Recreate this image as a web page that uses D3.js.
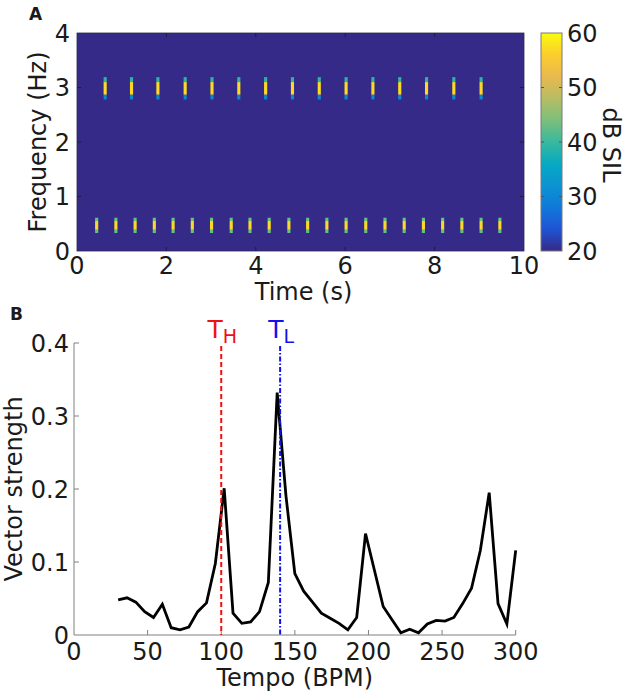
<!DOCTYPE html>
<html><head><meta charset="utf-8">
<script src="https://cdn.jsdelivr.net/npm/d3@7"></script>
<style>
body{margin:0;background:#fff}
text{font-family:"DejaVu Sans",sans-serif;fill:#1a1a1a}
</style>
</head><body>
<svg id="c" width="630" height="695"></svg>
<script>
// ---------- Panel A data ----------
const highPulseTimes = [0.63,1.22,1.81,2.42,3.02,3.62,4.22,4.82,5.42,6.02,6.62,7.22,7.82,8.43,9.04];
const lowPulseTimes  = [0.44,0.87,1.30,1.73,2.15,2.58,3.01,3.45,3.87,4.30,4.74,5.16,5.59,6.02,6.46,6.89,7.32,7.75,8.18,8.61,9.04,9.46];
const highFreqEdges = [2.78,2.87,3.10,3.19];
const highBandDB    = [30,57,39];
const lowFreqEdges  = [0.33,0.39,0.55,0.61];
const lowBandDB     = [43,57,43];
const backgroundDB  = 20;
const pulseWidth    = 0.07;
const timeTicks = [0,2,4,6,8,10];
const freqTicks = [0,1,2,3,4];
const dbTicks   = [20,30,40,50,60];

// ---------- Panel B data ----------
const tempo = [30,36,42,48,54,60,66,72,78,84,90,96,102,108,114,120,126,132,138,144,150,156,162,168,174,180,186,192,198,204,210,216,222,228,234,240,246,252,258,264,270,276,282,288,294,300];
const vectorStrength = [0.048,0.051,0.045,0.032,0.024,0.042,0.010,0.007,0.011,0.032,0.044,0.098,0.201,0.030,0.016,0.018,0.032,0.072,0.332,0.190,0.084,0.060,0.045,0.030,0.023,0.016,0.007,0.024,0.139,0.089,0.039,0.021,0.003,0.008,0.003,0.015,0.020,0.019,0.024,0.043,0.064,0.116,0.195,0.043,0.015,0.116];
const tempoTicks = [0,50,100,150,200,250,300];
const vsTicks = [0,0.1,0.2,0.3,0.4];
const tH = 100, tL = 140;

// parula colormap stops
const parula = ["#352a87","#2053d4","#1079da","#0c93d2","#07a9c2","#38b99e","#7cbf7b","#b7bd64","#e9b94e","#fccd2e","#f9fb0e"];

const svg = d3.select("#c");
const FS = 24;

// ---------- Panel A ----------
const xT = d3.scaleLinear().domain([0,10]).range([77,524]);
const yF = d3.scaleLinear().domain([0,4]).range([251,33]);
const cScale = d3.scaleLinear().domain(d3.range(parula.length).map(i=>20+40*i/(parula.length-1))).range(parula).clamp(true);

svg.append("rect").attr("x",xT(0)).attr("y",yF(4)).attr("width",xT(10)-xT(0)).attr("height",yF(0)-yF(4)).attr("fill",cScale(backgroundDB));

function drawPulses(times, edges, dbs){
  const cells = [];
  times.forEach(t=>dbs.forEach((d,i)=>cells.push({t, f0:edges[i], f1:edges[i+1], d})));
  svg.append("g").selectAll("rect").data(cells).join("rect")
    .attr("x",c=>xT(c.t-pulseWidth/2)).attr("width",c=>xT(c.t+pulseWidth/2)-xT(c.t-pulseWidth/2))
    .attr("y",c=>yF(c.f1)).attr("height",c=>yF(c.f0)-yF(c.f1))
    .attr("fill",c=>cScale(c.d));
}
drawPulses(highPulseTimes, highFreqEdges, highBandDB);
drawPulses(lowPulseTimes, lowFreqEdges, lowBandDB);

// inner ticks on heatmap
const tk = svg.append("g").attr("stroke","#1c1c40").attr("stroke-width",1);
timeTicks.slice(1,-1).forEach(v=>{
  tk.append("line").attr("x1",xT(v)).attr("x2",xT(v)).attr("y1",yF(0)).attr("y2",yF(0)-4);
  tk.append("line").attr("x1",xT(v)).attr("x2",xT(v)).attr("y1",yF(4)).attr("y2",yF(4)+4);
});
freqTicks.slice(1,-1).forEach(v=>{
  tk.append("line").attr("x1",xT(0)).attr("x2",xT(0)+4).attr("y1",yF(v)).attr("y2",yF(v));
  tk.append("line").attr("x1",xT(10)).attr("x2",xT(10)-4).attr("y1",yF(v)).attr("y2",yF(v));
});
svg.append("rect").attr("x",xT(0)).attr("y",yF(4)).attr("width",xT(10)-xT(0)).attr("height",yF(0)-yF(4))
  .attr("fill","none").attr("stroke","#2a2a50").attr("stroke-width",0.8);

// tick labels A
svg.append("g").selectAll("text").data(timeTicks).join("text")
  .attr("x",d=>xT(d)).attr("y",274).attr("text-anchor","middle").attr("font-size",FS).text(d=>d);
svg.append("g").selectAll("text").data(freqTicks).join("text")
  .attr("x",70).attr("y",d=>yF(d)).attr("dy","0.36em").attr("text-anchor","end").attr("font-size",FS).text(d=>d);
svg.append("text").attr("x",(xT(0)+xT(10))/2+3).attr("y",300).attr("text-anchor","middle").attr("font-size",FS).text("Time (s)");
svg.append("text").attr("transform",`translate(46,${(yF(0)+yF(4))/2}) rotate(-90)`).attr("text-anchor","middle").attr("font-size",FS).text("Frequency (Hz)");
svg.append("text").attr("x",29).attr("y",20).attr("font-size",17).attr("font-weight","bold").attr("font-family","Liberation Sans, Arial, sans-serif").text("A");

// colorbar
const yC = d3.scaleLinear().domain([20,60]).range([251,33]);
const defs = svg.append("defs");
const grad = defs.append("linearGradient").attr("id","pg").attr("x1",0).attr("y1",1).attr("x2",0).attr("y2",0);
parula.forEach((c,i)=>grad.append("stop").attr("offset",i/(parula.length-1)).attr("stop-color",c));
svg.append("rect").attr("x",541).attr("y",yC(60)).attr("width",21).attr("height",yC(20)-yC(60))
  .attr("fill","url(#pg)").attr("stroke","#7a7a7a").attr("stroke-width",1);
const cbT = svg.append("g").attr("stroke","#555").attr("stroke-width",1);
dbTicks.slice(1,-1).forEach(v=>{
  cbT.append("line").attr("x1",562).attr("x2",559).attr("y1",yC(v)).attr("y2",yC(v));
  cbT.append("line").attr("x1",541).attr("x2",544).attr("y1",yC(v)).attr("y2",yC(v));
});
svg.append("g").selectAll("text").data(dbTicks).join("text")
  .attr("x",567).attr("y",d=>yC(d)).attr("dy","0.36em").attr("font-size",FS).text(d=>d);
svg.append("text").attr("transform",`translate(603,145) rotate(90)`).attr("text-anchor","middle").attr("font-size",FS).text("dB SIL");

// ---------- Panel B ----------
const xB = d3.scaleLinear().domain([0,300]).range([74,515.7]);
const yB = d3.scaleLinear().domain([0,0.4]).range([635,343]);

const ax = svg.append("g").attr("stroke","#808080").attr("stroke-width",1).attr("fill","none");
ax.append("line").attr("x1",xB(0)).attr("x2",xB(300)).attr("y1",yB(0)).attr("y2",yB(0));
ax.append("line").attr("x1",xB(0)).attr("x2",xB(0)).attr("y1",yB(0)).attr("y2",yB(0.4));
tempoTicks.slice(1).forEach(v=>ax.append("line").attr("x1",xB(v)).attr("x2",xB(v)).attr("y1",yB(0)).attr("y2",yB(0)-5));
vsTicks.slice(1).forEach(v=>ax.append("line").attr("x1",xB(0)).attr("x2",xB(0)+5).attr("y1",yB(v)).attr("y2",yB(v)));

svg.append("g").selectAll("text").data(tempoTicks).join("text")
  .attr("x",d=>xB(d)).attr("y",660).attr("text-anchor","middle").attr("font-size",FS).text(d=>d);
svg.append("g").selectAll("text").data(vsTicks).join("text")
  .attr("x",69).attr("y",d=>yB(d)).attr("dy","0.36em").attr("text-anchor","end").attr("font-size",FS).text(d=>d);
svg.append("text").attr("x",(xB(0)+xB(300))/2).attr("y",686).attr("text-anchor","middle").attr("font-size",FS).text("Tempo (BPM)");
svg.append("text").attr("transform",`translate(22,${(yB(0)+yB(0.4))/2}) rotate(-90)`).attr("text-anchor","middle").attr("font-size",FS).text("Vector strength");
svg.append("text").attr("x",10).attr("y",320).attr("font-size",17).attr("font-weight","bold").attr("font-family","Liberation Sans, Arial, sans-serif").text("B");

// curve
const line = d3.line().x((d,i)=>xB(tempo[i])).y(d=>yB(d));
svg.append("path").datum(vectorStrength).attr("d",line).attr("fill","none").attr("stroke","#000").attr("stroke-width",2.8).attr("stroke-linejoin","miter");

// reference lines
svg.append("line").attr("x1",xB(tH)).attr("x2",xB(tH)).attr("y1",yB(0.396)).attr("y2",yB(0))
  .attr("stroke","#ee1111").attr("stroke-width",2).attr("stroke-dasharray","5,3");
svg.append("line").attr("x1",xB(tL)).attr("x2",xB(tL)).attr("y1",yB(0.396)).attr("y2",yB(0))
  .attr("stroke","#1111ee").attr("stroke-width",2).attr("stroke-dasharray","5,2,1.5,2");

function tLabel(x, sub, color){
  const t = svg.append("text").attr("x",x).attr("y",338).attr("text-anchor","middle").style("fill",color);
  t.append("tspan").attr("font-size",25).text("T");
  t.append("tspan").attr("font-size",19).attr("dy",5).text(sub);
}
tLabel(xB(tH)+1, "H", "#ee1111");
tLabel(xB(tL)+1, "L", "#1111ee");
</script>
</body></html>
